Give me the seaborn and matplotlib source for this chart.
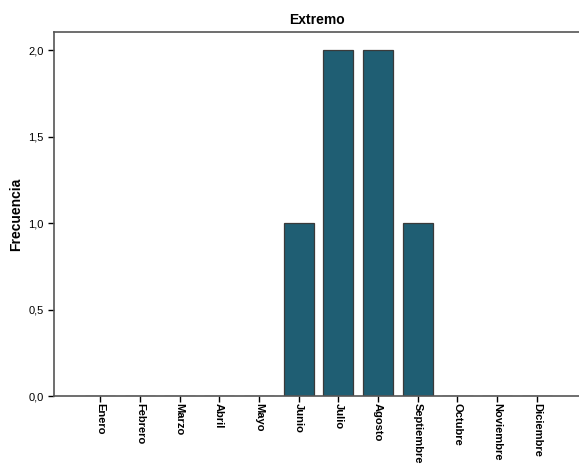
import numpy as np
import pandas as pd
import matplotlib
matplotlib.use('Agg')
import matplotlib.pyplot as plt
import seaborn as sns
from matplotlib.ticker import FuncFormatter

meses = ['Enero', 'Febrero', 'Marzo', 'Abril', 'Mayo', 'Junio',
         'Julio', 'Agosto', 'Septiembre', 'Octubre', 'Noviembre', 'Diciembre']
frecuencia = [0, 0, 0, 0, 0, 1, 2, 2, 1, 0, 0, 0]
yticks = [0.0, 0.5, 1.0, 1.5, 2.0]

sns.set_style('white')
plt.rcParams['font.family'] = ['Liberation Sans', 'DejaVu Sans']
plt.rcParams['text.color'] = 'black'
plt.rcParams['xtick.color'] = 'black'
plt.rcParams['ytick.color'] = 'black'
plt.rcParams['axes.labelcolor'] = 'black'

df = pd.DataFrame({'Mes': meses, 'Frecuencia': frecuencia})

fig = plt.figure(figsize=(5.79, 4.68), dpi=100)
ax = fig.add_axes([0.0933, 0.1538, 0.9067, 0.7778])

sns.barplot(data=df, x='Mes', y='Frecuencia', order=meses, color='#1F5E73',
            saturation=1, width=0.76, edgecolor='#3a3a3a', linewidth=0.9, ax=ax)

ax.set_xlim(-1.16, 12.06)
ax.set_ylim(0, 2.104)
ax.set_yticks(yticks)
ax.yaxis.set_major_formatter(FuncFormatter(lambda v, p: f'{v:.1f}'.replace('.', ',')))
ax.set_xticks(range(len(meses)))
ax.set_xticklabels(meses, rotation=270, fontweight='bold', fontsize=8)
ax.tick_params(axis='y', labelsize=8, length=4, width=1, direction='out', left=True, colors='black')
ax.tick_params(axis='x', length=4, width=1, direction='out', bottom=True, pad=1, colors='black')

ax.set_xlabel('')
ax.set_ylabel('Frecuencia', fontsize=10, fontweight='bold', labelpad=4)
ax.set_title('Extremo', fontsize=10, fontweight='bold', pad=6)

for s in ['top', 'bottom', 'left']:
    ax.spines[s].set_color('#555555')
    ax.spines[s].set_linewidth(1.2)
ax.spines['right'].set_visible(False)

plt.savefig('out.png', dpi=100)
